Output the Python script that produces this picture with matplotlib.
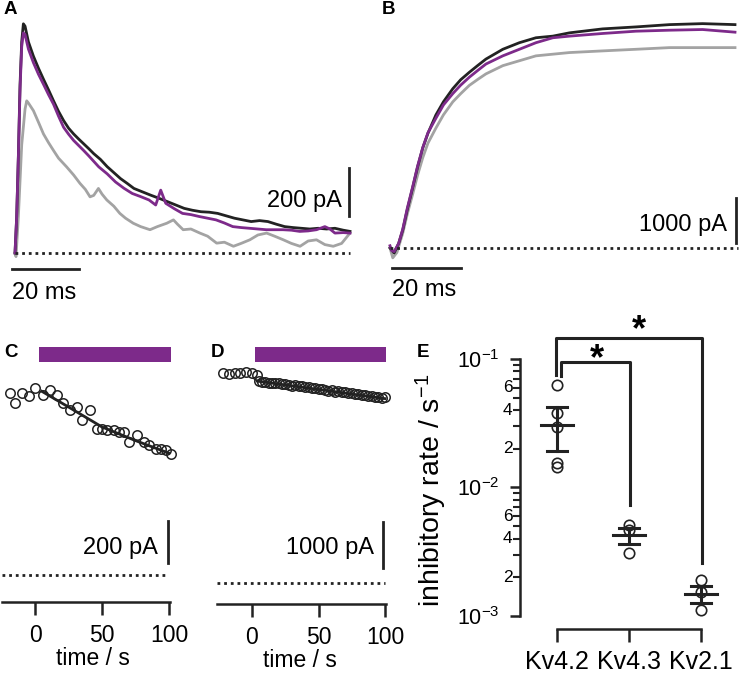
import numpy as np
import matplotlib
matplotlib.use("Agg")
import matplotlib.pyplot as plt
from matplotlib.ticker import FixedLocator, NullFormatter

plt.rcParams['font.family'] = ['Liberation Sans', 'DejaVu Sans']
plt.rcParams['mathtext.fontset'] = 'custom'
plt.rcParams['mathtext.rm'] = 'Liberation Sans'
plt.rcParams['mathtext.default'] = 'regular'

BLACK = "#222222"
PURPLE = "#7d2a8a"
GRAY = "#a3a3a3"

# ---- panel A: transient current traces (ms, pA) ----
a_black_t = [0, 0.5, 1, 1.5, 2, 2.5, 3, 4, 5.5, 7, 8.5, 10, 11.5, 13, 14.5, 16, 17.5, 19, 20.5, 22, 23.5,
             25.5, 27.5, 29.5, 31.5, 33.5, 35.5, 38, 40.5, 43, 45.5, 48, 50.5, 53, 55.5, 58, 60.5, 63, 65.5,
             68, 70.5, 73, 75.5, 78, 80.5, 83, 85.5, 88, 90.5, 93, 95.5, 98, 100]
a_black_i = [0, 150, 400, 700, 880, 955, 945, 880, 820, 770, 724, 680, 634, 590, 552, 520, 496, 475, 455, 435, 414,
             390, 360, 335, 310, 290, 269, 255, 241, 228, 214, 200, 186, 178, 172, 170, 165, 155, 145,
             138, 131, 135, 131, 120, 110, 106, 103, 100, 103, 100, 103, 95, 90]
a_purple_t = [0, 0.5, 1, 1.5, 2, 2.5, 3, 4, 5.5, 7, 8.5, 10, 11.5, 13, 14.5, 16, 17.5, 19, 20.5, 22, 25, 27.5,
              30, 32.5, 35, 37.5, 40, 42, 43.5, 45, 47.5, 50, 52.5, 55, 57.5, 60, 62.5, 65, 67.5, 70, 72.5, 75,
              77.5, 80, 82.5, 85, 87.5, 90, 92.5, 94, 95.5, 98, 100]
a_purple_i = [0, 150, 400, 680, 860, 917, 910, 850, 793, 745, 703, 660, 620, 570, 524, 495, 469, 448, 427, 405, 359, 330,
              296, 270, 248, 235, 221, 200, 262, 207, 185, 165, 160, 152, 145, 138, 125, 110, 106, 103, 100, 97,
              97, 97, 95, 90, 92, 97, 110, 100, 83, 85, 83]
a_gray_t = [0, 0.3, 1, 2, 3, 3.5, 4, 5.5, 7, 8.5, 10, 11.5, 13, 15.4, 17.5, 19.4, 21, 22.4, 23.5, 24.9, 26, 27.4,
            29.5, 31.3, 33, 35.3, 37.5, 40.3, 42.5, 45.3, 47.3, 48.5, 50.2, 52.5, 55.2, 57.5, 60.2, 62.5, 65.2,
            67.5, 70.1, 72.5, 75.1, 77.5, 80.1, 82.5, 85.1, 87.5, 90, 92.5, 95, 97.5, 100]
a_gray_i = [0, -15, 150, 450, 600, 634, 625, 593, 545, 496, 460, 427, 395, 359, 325, 290, 265, 234, 240, 269, 245, 221,
            195, 165, 145, 124, 110, 97, 110, 124, 138, 120, 97, 100, 83, 70, 41, 45, 28,
            40, 55, 75, 83, 70, 55, 40, 28, 50, 55, 35, 28, 40, 83]

# ---- panel B: sustained current traces (ms, pA) ----
b_black_t = [0, 1.2, 2.5, 3.7, 5, 6.6, 8, 9.5, 11, 13.3, 15.5, 18.2, 20.5, 23, 25.5, 27.8, 32.7, 37.5, 42.3,
             47.2, 52, 61.6, 71.3, 81, 90.6, 100]
b_black_i = [0, -110, 100, 400, 850, 1350, 1800, 2226, 2550, 2956, 3250, 3540, 3740, 3905, 4060, 4198, 4416, 4562, 4672,
             4708, 4781, 4869, 4913, 4964, 4986, 4964]
b_purple_t = [0, 0.5, 1.2, 2.5, 3.7, 5, 6.6, 8, 9.5, 11, 13.3, 15.5, 18.2, 20.5, 23, 25.5, 27.8, 32.7, 37.5,
              42.3, 47.2, 52, 61.6, 71.3, 81, 90.6, 100]
b_purple_i = [50, -60, -80, 100, 420, 880, 1370, 1820, 2230, 2560, 2883, 3180, 3431, 3620, 3796, 3950, 4088, 4270, 4416,
              4562, 4672, 4708, 4767, 4818, 4840, 4855, 4796]
b_gray_t = [0, 0.8, 2, 3.7, 5, 6.6, 8, 9.5, 11, 13.3, 15.5, 18.2, 20.5, 23, 25.5, 27.8, 32.7, 37.5, 42.3,
            47.2, 52, 61.6, 71.3, 81, 90.6, 100]
b_gray_i = [0, -219, -100, 329, 750, 1205, 1620, 2008, 2330, 2664, 2960, 3248, 3430, 3614, 3750, 3869, 4052, 4161, 4270,
            4307, 4343, 4380, 4416, 4453, 4453, 4453]

# ---- panel C: Kv4.2 time course (s, pA) ----
c_t = [-18.75, -15, -10, -4.25, 0, 5.75, 11.25, 16.25, 21.25, 26.25, 31.25, 35, 40.75, 46.25, 50, 53.75,
       58.75, 62.5, 66.25, 70, 76.25, 81.25, 85, 90, 93.75, 97.5, 101.25]
c_i = [867, 817, 867, 852, 891, 859, 880, 859, 820, 786, 802, 739, 786, 695, 695, 691,
       691, 683, 680, 633, 667, 633, 617, 602, 602, 594, 578]
c_fit_t = [5, 25, 50, 75, 100]
c_fit_i = [875, 800, 705, 640, 580]
c_app = [3, 101.5]

# ---- panel D: Kv2.1 time course (s, pA) ----
d_t = [-21.6, -17.3, -13.0, -8.7, -4.4, 0, 3.5, 5, 7.5, 10, 12.5, 15, 17.5, 20, 22.5, 25, 27.5, 30, 32.5, 35,
       37.5, 40, 42.5, 45, 47.5, 50, 52.5, 55, 57.5, 60, 62.5, 65, 67.5, 70, 72.5, 75, 77.5, 80, 82.5, 85,
       87.5, 90, 92.5, 95, 97.5, 100]
d_i = [4565, 4555, 4580, 4565, 4585, 4580, 4520, 4400, 4380, 4385, 4360, 4365, 4345, 4350, 4325, 4330, 4305,
       4300, 4305, 4280, 4285, 4260, 4270, 4245, 4250, 4220, 4230, 4205, 4190, 4200, 4165, 4175, 4150, 4160,
       4135, 4130, 4110, 4120, 4095, 4100, 4070, 4080, 4050, 4040, 4025, 4040]
d_fit_t = [4, 50, 100]
d_fit_i = [4395, 4215, 4015]
d_app = [2.3, 100.8]

# ---- panel E: inhibitory rates ----
channels = ["Kv4.2", "Kv4.3", "Kv2.1"]
rates = [[0.0628, 0.0380, 0.0296, 0.0155, 0.0145],
         [0.0051, 0.00467, 0.00309],
         [0.00190, 0.00154, 0.00111]]
rate_mean = [0.0306, 0.00427, 0.00148]
rate_sem = [0.0114, 0.00061, 0.00022]

W, H = 740, 674
fig = plt.figure(figsize=(W / 100, H / 100), dpi=100)


def px_axes(left, top, right, bottom):
    return fig.add_axes([left / W, 1 - bottom / H, (right - left) / W, (bottom - top) / H])


LW = 2.0
FS = 17

# A
axA = px_axes(5, 15, 360, 300)
axA.set_xlim((5 - 15) / 3.35, (360 - 15) / 3.35)
axA.set_ylim((253 - 300) / 0.24, (253 - 15) / 0.24)
axA.axis("off")
axA.plot(a_gray_t, a_gray_i, color=GRAY, lw=LW)
axA.plot(a_black_t, a_black_i, color=BLACK, lw=LW)
axA.plot(a_purple_t, a_purple_i, color=PURPLE, lw=LW)
axA.plot([0, 100], [0, 0], color=BLACK, lw=2, ls=(0, (1, 1.4)))
axA.plot([-1, 19], [-67, -67], color=BLACK, lw=2, clip_on=False)
axA.text(-1, -165, "20 ms", fontsize=FS, ha="left", va="center")
axA.plot([99.7, 99.7], [154, 354], color=BLACK, lw=2, clip_on=False)
axA.text(97.6, 215, "200 pA", fontsize=FS, ha="right", va="center")

# B
axB = px_axes(380, 10, 740, 300)
axB.set_xlim((380 - 390) / 3.45, (740 - 390) / 3.45)
axB.set_ylim((248 - 300) / 0.045, (248 - 10) / 0.045)
axB.axis("off")
axB.plot(b_gray_t, b_gray_i, color=GRAY, lw=LW)
axB.plot(b_black_t, b_black_i, color=BLACK, lw=LW)
axB.plot(b_purple_t, b_purple_i, color=PURPLE, lw=LW)
axB.plot([0, 101], [0, 0], color=BLACK, lw=2, ls=(0, (1, 1.4)))
axB.plot([0.6, 20.6], [-444, -444], color=BLACK, lw=2, clip_on=False)
axB.text(0.6, -930, "20 ms", fontsize=FS, ha="left", va="center")
axB.plot([100.3, 100.3], [111, 1111], color=BLACK, lw=2, clip_on=False)
axB.text(97.7, 510, "1000 pA", fontsize=FS, ha="right", va="center")


def time_axes(ax):
    for s in ("top", "right", "left"):
        ax.spines[s].set_visible(False)
    ax.spines["bottom"].set_linewidth(1.8)
    ax.spines["bottom"].set_color(BLACK)
    ax.set_yticks([])
    ax.set_xticks([0, 50, 100])
    ax.tick_params(axis="x", length=9, width=1.8, color=BLACK, labelsize=16.5, pad=7)
    ax.set_xlabel("time / s", fontsize=16.5, labelpad=0)
    ax.patch.set_alpha(0)


# C
axC = px_axes(0, 340, 185, 602)
axC.set_xlim((0 - 35) / 1.34, (185 - 35) / 1.34)
axC.set_ylim((575 - 602) / 0.21, (575 - 340) / 0.21)
time_axes(axC)
axC.spines["bottom"].set_bounds(-25, 100.5)
axC.fill_between(c_app, 1014, 1086, color=PURPLE, lw=0)
axC.plot(c_t, c_i, "o", mfc="none", mec=BLACK, ms=6.8, mew=1.1)
axC.plot(c_fit_t, c_fit_i, color=BLACK, lw=2)
axC.plot([-24.6, 99.5], [0, 0], color=BLACK, lw=2, ls=(0, (1, 1.4)))
axC.plot([99.5, 99.5], [57, 257], color=BLACK, lw=2)
axC.text(91.8, 128, "200 pA", fontsize=FS, ha="right", va="center")

# D
axD = px_axes(205, 340, 395, 604)
axD.set_xlim((205 - 252) / 1.33, (395 - 252) / 1.33)
axD.set_ylim((583.3 - 604) / 0.046, (583.3 - 340) / 0.046)
time_axes(axD)
axD.spines["bottom"].set_bounds(-26.3, 100.5)
axD.fill_between(d_app, 4811, 5137, color=PURPLE, lw=0)
axD.plot(d_t, d_i, "o", mfc="none", mec=BLACK, ms=6.8, mew=1.1)
axD.plot(d_fit_t, d_fit_i, color=BLACK, lw=2)
axD.plot([-26, 100], [0, 0], color=BLACK, lw=2, ls=(0, (1, 1.4)))
axD.plot([98.5, 98.5], [333, 1333], color=BLACK, lw=2)
axD.text(91.7, 760, "1000 pA", fontsize=FS, ha="right", va="center")

# E
axE = px_axes(520, 320, 730, 629)
axE.set_yscale("log")
axE.set_xlim(-37 / 72, 2 + 29 / 72)
axE.set_ylim(10 ** (-3 - 13 / 128.5), 10 ** (-1 + 39 / 128.5))
for s in ("top", "right"):
    axE.spines[s].set_visible(False)
for s in ("left", "bottom"):
    axE.spines[s].set_linewidth(1.8)
    axE.spines[s].set_color(BLACK)
axE.spines["left"].set_bounds(1e-3, 1e-1)
axE.spines["bottom"].set_bounds(0, 2)
axE.patch.set_alpha(0)
axE.set_xticks(range(len(channels)))
axE.set_xticklabels(channels)
axE.tick_params(axis="x", length=9.4, width=1.8, color=BLACK, labelsize=18, pad=6)
axE.yaxis.set_major_locator(FixedLocator([1e-3, 1e-2, 1e-1]))
axE.set_yticklabels(["$10^{-3}$", "$10^{-2}$", "$10^{-1}$"])
minor = [m * 10.0 ** e for e in (-3, -2) for m in range(2, 10)]
axE.yaxis.set_minor_locator(FixedLocator(minor))
axE.yaxis.set_minor_formatter(NullFormatter())
axE.tick_params(axis="y", which="major", length=7, width=1.8, color=BLACK, labelsize=15.5, pad=8)
axE.tick_params(axis="y", which="minor", length=5, width=1.5, color=BLACK)
for v in (2e-3, 4e-3, 6e-3, 2e-2, 4e-2, 6e-2):
    axE.text(-0.62, v, str(int(round(v / 10 ** np.floor(np.log10(v))))), fontsize=12.5,
             ha="right", va="center", transform=axE.transData, clip_on=False)
axE.set_ylabel("inhibitory rate / s$^{-1}$", fontsize=20.5)
axE.yaxis.set_label_coords((449 - 520) / 210, (629 - 490) / 309)
for i, vals in enumerate(rates):
    axE.plot([i] * len(vals), vals, "o", mfc="none", mec=BLACK, ms=7.5, mew=1.2, zorder=3)
    m, s = rate_mean[i], rate_sem[i]
    axE.plot([i - 0.22, i + 0.22], [m, m], color=BLACK, lw=2.2, zorder=4)
    axE.plot([i, i], [m - s, m + s], color=BLACK, lw=2.2, zorder=4)
    for y in (m - s, m + s):
        axE.plot([i - 0.14, i + 0.14], [y, y], color=BLACK, lw=2.2, zorder=4)
# significance brackets
axE.plot([0.06, 0.06, 1.01, 1.01], [0.0738, 0.0948, 0.0948, 0.00731], color=BLACK, lw=2.2, clip_on=False)
axE.plot([-0.01, -0.01, 2.01, 2.01], [0.075, 0.1456, 0.1456, 0.00258], color=BLACK, lw=2.2, clip_on=False)
axE.text(0.556, 0.0993, "*", fontsize=26, fontweight="bold", ha="center", va="center")
axE.text(1.14, 0.165, "*", fontsize=26, fontweight="bold", ha="center", va="center", clip_on=False)

# panel letters
for lab, x, y in (("A", 4, 10), ("B", 382, 10), ("C", 4, 352), ("D", 211, 352), ("E", 417, 352)):
    fig.text(x / W, 1 - y / H, lab, fontsize=13.5, fontweight="bold", ha="left", va="center")

fig.savefig("out.png", dpi=100)
